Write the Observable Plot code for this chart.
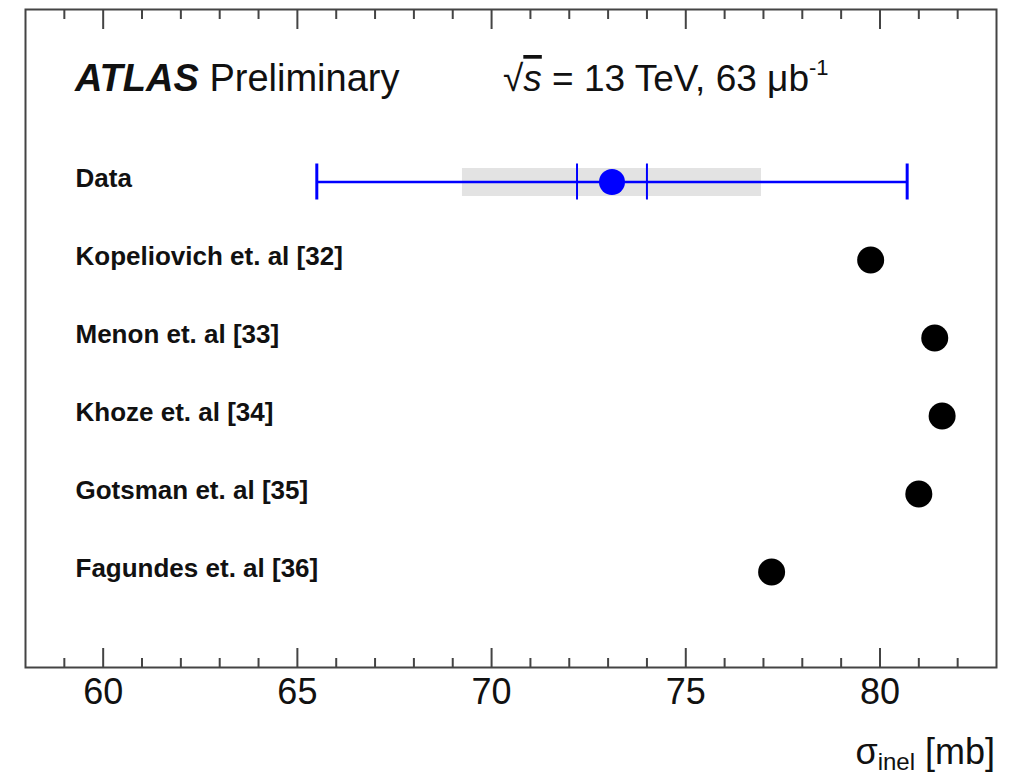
<!DOCTYPE html>
<html><head><meta charset="utf-8">
<script src="https://cdn.jsdelivr.net/npm/d3@7"></script>
<script src="https://cdn.jsdelivr.net/npm/@observablehq/plot@0.6"></script>
<style>body{margin:0;background:#fff;} svg{display:block;}</style>
</head><body><div id="chart"></div>
<script>
// ---- data ----
const rowNames = ["Data", "Kopeliovich et. al [32]", "Menon et. al [33]", "Khoze et. al [34]", "Gotsman et. al [35]", "Fagundes et. al [36]"];
const modelNames = ["Kopeliovich et. al [32]", "Menon et. al [33]", "Khoze et. al [34]", "Gotsman et. al [35]", "Fagundes et. al [36]"];
const modelValues = [79.76, 81.41, 81.6, 81.0, 77.21];
const dataValue = 73.1;
const dataExpErr = 0.9;      // inner ticks
const dataExtrapErr = 3.85;  // grey band
const dataTotalErr = 7.6;    // outer caps
const majorTicks = [60, 65, 70, 75, 80];
const minorTicks = [59, 61, 62, 63, 64, 66, 67, 68, 69, 71, 72, 73, 74, 76, 77, 78, 79, 81, 82];

const models = modelNames.map((n, i) => ({name: n, value: modelValues[i]}));
const dataRow = [{name: "Data", value: dataValue,
  lo: dataValue - dataTotalErr, hi: dataValue + dataTotalErr,
  slo: dataValue - dataExpErr, shi: dataValue + dataExpErr,
  blo: dataValue - dataExtrapErr, bhi: dataValue + dataExtrapErr}];
const labels = rowNames.map(n => ({name: n}));

const font = "'Liberation Sans', Arial, Helvetica, sans-serif";

const plot = Plot.plot({
  width: 1021, height: 779,
  marginLeft: 25, marginRight: 25, marginTop: 9, marginBottom: 112,
  style: {fontFamily: font, background: "#fff", color: "#000"},
  x: {domain: [58, 83]},
  y: {type: "band", domain: rowNames, paddingInner: 0.5, paddingOuter: 1.415, align: 0.668, axis: null},
  marks: [
    Plot.ruleY(dataRow, {y: "name", x1: "blo", x2: "bhi", stroke: "#e3e3e3", strokeWidth: 28}),
    Plot.ruleY(dataRow, {y: "name", x1: "lo", x2: "hi", stroke: "#0000ff", strokeWidth: 2.5}),
    Plot.tickX(dataRow, {x: "lo", y: "name", stroke: "#0000ff", strokeWidth: 3, insetTop: 1.5, insetBottom: 1.5}),
    Plot.tickX(dataRow, {x: "hi", y: "name", stroke: "#0000ff", strokeWidth: 3, insetTop: 1.5, insetBottom: 1.5}),
    Plot.tickX(dataRow, {x: "slo", y: "name", stroke: "#0000ff", strokeWidth: 2, insetTop: 1.5, insetBottom: 1.5}),
    Plot.tickX(dataRow, {x: "shi", y: "name", stroke: "#0000ff", strokeWidth: 2, insetTop: 1.5, insetBottom: 1.5}),
    Plot.dot(dataRow, {x: "value", y: "name", r: 13, fill: "#0000ff", stroke: null}),
    Plot.dot(models, {x: "value", y: "name", r: 13.5, fill: "#000", stroke: null}),
    Plot.text(labels, {y: "name", text: "name", frameAnchor: "left", dx: 50, dy: -3, textAnchor: "start",
      fontSize: 26, fontWeight: "bold", fill: "#111"}),
    Plot.frame({stroke: "#444", strokeWidth: 2}),
    Plot.axisX(majorTicks, {anchor: "bottom", tickSize: -19, text: null, stroke: "#444", strokeWidth: 2}),
    Plot.axisX(minorTicks, {anchor: "bottom", tickSize: -9, text: null, stroke: "#444", strokeWidth: 2}),
    Plot.axisX(majorTicks, {anchor: "top", tickSize: -19, text: null, stroke: "#444", strokeWidth: 2}),
    Plot.axisX(minorTicks, {anchor: "top", tickSize: -9, text: null, stroke: "#444", strokeWidth: 2}),
    Plot.axisX(majorTicks, {anchor: "bottom", tickSize: 0, tickPadding: 11, fontSize: 36, label: null, fill: "#111"})
  ]
});

const svg = d3.select(plot);
// Header
const h1 = svg.append("text").attr("x", 75).attr("y", 91).attr("text-anchor", "start")
  .attr("font-family", font).attr("font-size", 38).attr("fill", "#111");
h1.append("tspan").attr("font-weight", "bold").attr("font-style", "italic").text("ATLAS");
h1.append("tspan").text(" Preliminary");

const h2 = svg.append("text").attr("x", 503).attr("y", 91).attr("text-anchor", "start")
  .attr("font-family", font).attr("font-size", 37).attr("fill", "#111");
h2.append("tspan").text("√");
h2.append("tspan").attr("font-style", "italic").attr("text-decoration", "overline").text("s");
h2.append("tspan").text(" = 13 TeV, 63 μb");
h2.append("tspan").attr("font-size", 22).attr("dy", -16).text("-1");

// Axis label
const xl = svg.append("text").attr("x", 995).attr("y", 764).attr("text-anchor", "end")
  .attr("font-family", font).attr("font-size", 36).attr("fill", "#111");
xl.append("tspan").text("σ");
xl.append("tspan").attr("font-size", 24).attr("dy", 6).text("inel");
xl.append("tspan").attr("dy", -6).text(" [mb]");

document.getElementById("chart").appendChild(plot);
</script>
</body></html>
